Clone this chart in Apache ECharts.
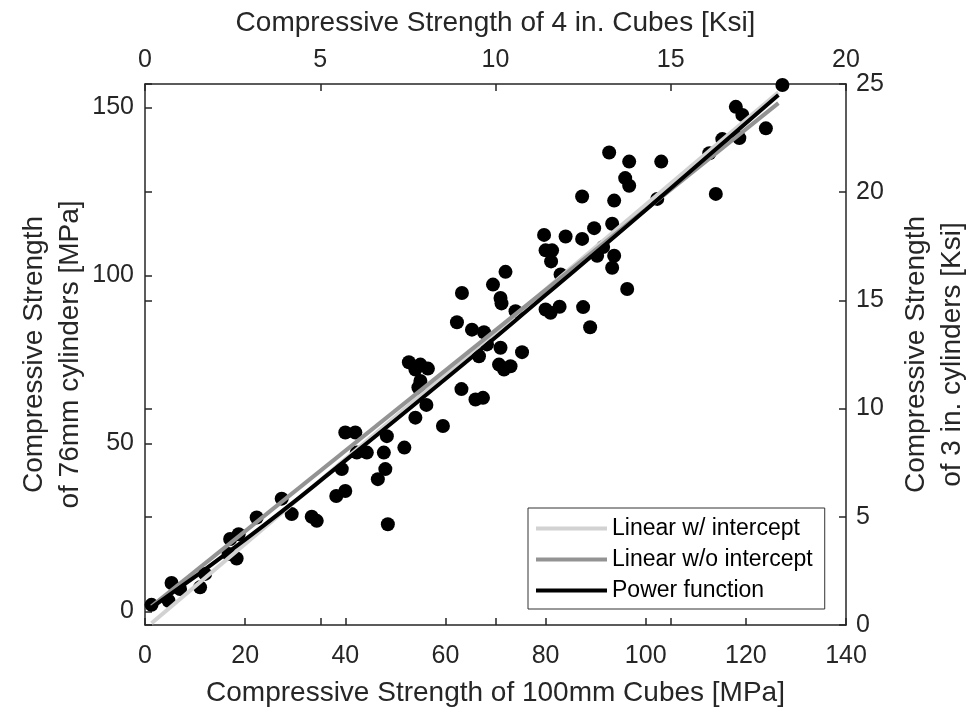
<!DOCTYPE html>
<html>
<head>
<meta charset="utf-8">
<script src="https://cdn.jsdelivr.net/npm/echarts@6/dist/echarts.min.js"></script>
<style>html,body{margin:0;padding:0;background:#fff}#c{width:970px;height:711px}</style>
</head>
<body>
<div id="c"></div>
<script>
// Measured data: compressive strength of 100mm cubes vs 76mm cylinders [MPa]
const cubeMPa = [1.3,4.7,5.3,7.0,11.0,12.0,16.7,17.0,18.7,18.3,22.3,27.3,29.3,33.3,34.3,38.2,40.0,39.3,40.0,42.0,
  42.3,44.3,47.7,48.3,48.0,46.5,48.5,51.8,54.0,56.2,59.5,52.7,54.0,55.0,56.5,55.0,54.6,63.2,66.0,67.5,
  62.3,63.3,65.3,67.7,68.3,66.7,70.7,71.7,73.0,71.0,75.3,74.0,69.5,71.0,71.2,72.0,79.7,80.0,81.3,81.1,
  83.0,80.0,81.0,82.8,87.5,88.9,84.0,87.3,89.7,93.3,90.3,93.7,93.3,96.3,91.5,87.3,93.7,92.7,96.7,103.1,
  95.9,96.7,102.3,114.0,112.7,115.3,118.0,119.3,118.7,124.0,127.3];
const cylMPa = [2.0,3.2,8.5,6.7,7.2,11.2,17.1,21.6,23.0,15.8,28.0,33.6,29.0,28.2,27.0,34.4,35.9,42.4,53.3,53.3,
  47.3,47.3,47.3,52.2,42.4,39.4,26.0,48.8,57.7,61.5,55.2,74.2,72.0,73.5,72.3,68.6,66.7,66.2,63.1,63.6,
  86.1,94.8,83.9,83.1,79.5,76.0,73.5,72.0,73.0,78.5,77.2,89.4,97.3,93.3,91.7,101.1,112.1,107.5,107.5,104.2,
  100.3,89.9,88.9,90.7,90.6,84.6,111.6,110.9,114.1,115.4,105.9,105.9,102.3,96.0,108.5,123.5,122.3,136.6,133.9,133.9,
  129.0,126.7,122.8,124.3,136.4,140.6,150.2,147.8,140.9,143.8,156.7];

// Fitted curves
const linFitX = [1.3, 126.5];
const linInterceptY = [-3.5, 154.5];
const linNoInterceptY = [1.55, 151.3];
const powFitX = [1.3, 20, 40, 60, 80, 100, 126.5];
const powFitY = [1.15, 21.4, 44.9, 69.2, 94.2, 119.5, 153.7];

const seriesNames = ['Linear w/ intercept', 'Linear w/o intercept', 'Power function'];
const mpaYTicks = [0, 50, 100, 150];

const FONT = 'Liberation Sans, Arial, Helvetica, sans-serif';
const AX = '#262626';

function zip(a, b) { return a.map((v, i) => [v, b[i]]); }

const axisLineStyle = { show: true, onZero: false, lineStyle: { color: AX, width: 1.5 } };
const noLine = { show: false, onZero: false };
const tickStyle = { show: true, inside: true, length: 7, lineStyle: { color: AX, width: 1.5 } };
const labelBase = { color: AX, fontSize: 25, fontFamily: FONT };
const nameBase = { color: AX, fontSize: 28, fontFamily: FONT };

const option = {
  animation: false,
  backgroundColor: '#fff',
  grid: { left: 145, top: 84, width: 701, height: 541, containLabel: false, outerBoundsMode: 'none' },
  xAxis: [
    { type: 'value', position: 'bottom', min: 0, max: 140, interval: 20,
      axisLine: axisLineStyle, axisTick: tickStyle, splitLine: { show: false },
      axisLabel: Object.assign({ margin: 19 }, labelBase),
      name: 'Compressive Strength of 100mm Cubes [MPa]', nameLocation: 'middle', nameGap: 54,
      nameMoveOverlap: false, nameTextStyle: nameBase },
    { type: 'value', position: 'top', min: 0, max: 20, interval: 5,
      axisLine: axisLineStyle, axisTick: tickStyle, splitLine: { show: false },
      axisLabel: Object.assign({ margin: 11 }, labelBase),
      name: 'Compressive Strength of 4 in. Cubes [Ksi]', nameLocation: 'middle', nameGap: 47,
      nameMoveOverlap: false, nameTextStyle: nameBase },
    { type: 'value', position: 'bottom', min: 0, max: 20, interval: 5,
      axisLine: noLine, axisTick: tickStyle, splitLine: { show: false },
      axisLabel: { show: false } }
  ],
  yAxis: [
    { type: 'value', position: 'left', min: -4, max: 157,
      axisLine: axisLineStyle,
      axisTick: Object.assign({ customValues: mpaYTicks }, tickStyle),
      splitLine: { show: false },
      axisLabel: Object.assign({ margin: 11, customValues: mpaYTicks }, labelBase),
      name: 'Compressive Strength\nof 76mm cylinders [MPa]', nameLocation: 'middle', nameRotate: 90, nameGap: 57,
      nameMoveOverlap: false, nameTextStyle: Object.assign({}, nameBase, { lineHeight: 36 }) },
    { type: 'value', position: 'right', min: 0, max: 25, interval: 5,
      axisLine: axisLineStyle, axisTick: tickStyle, splitLine: { show: false },
      axisLabel: Object.assign({ margin: 10 }, labelBase),
      name: 'Compressive Strength\nof 3 in. cylinders [Ksi]', nameLocation: 'middle', nameRotate: 90, nameGap: 52,
      nameMoveOverlap: false, nameTextStyle: Object.assign({}, nameBase, { lineHeight: 36 }) },
    { type: 'value', position: 'left', min: 0, max: 25, interval: 5,
      axisLine: noLine, axisTick: tickStyle, splitLine: { show: false },
      axisLabel: { show: false } }
  ],
  legend: {
    orient: 'vertical', left: 528, top: 508,
    data: seriesNames.map(n => ({ name: n, icon: 'rect' })),
    itemWidth: 71, itemHeight: 4, itemGap: 8, itemTextGap: 6,
    padding: [9, 12, 7, 8],
    backgroundColor: '#fff', borderColor: '#333', borderWidth: 1, borderRadius: 0,
    textStyle: { color: '#000', fontSize: 23, fontFamily: FONT }
  },
  series: [
    { type: 'scatter', name: 'data', data: zip(cubeMPa, cylMPa), symbol: 'circle', symbolSize: 14,
      itemStyle: { color: '#000', opacity: 1 }, xAxisIndex: 0, yAxisIndex: 0, z: 2 },
    { type: 'line', name: seriesNames[0], data: zip(linFitX, linInterceptY), showSymbol: false, symbol: 'none',
      lineStyle: { color: '#d2d2d2', width: 4 }, itemStyle: { color: '#d2d2d2' }, xAxisIndex: 0, yAxisIndex: 0, z: 3 },
    { type: 'line', name: seriesNames[1], data: zip(linFitX, linNoInterceptY), showSymbol: false, symbol: 'none',
      lineStyle: { color: '#939393', width: 4 }, itemStyle: { color: '#939393' }, xAxisIndex: 0, yAxisIndex: 0, z: 4 },
    { type: 'line', name: seriesNames[2], data: zip(powFitX, powFitY), showSymbol: false, symbol: 'none', smooth: true,
      lineStyle: { color: '#000', width: 4 }, itemStyle: { color: '#000' }, xAxisIndex: 0, yAxisIndex: 0, z: 5 }
  ]
};
const chart = echarts.init(document.getElementById('c'), null, { renderer: 'canvas' });
chart.setOption(option);
</script>
</body>
</html>
